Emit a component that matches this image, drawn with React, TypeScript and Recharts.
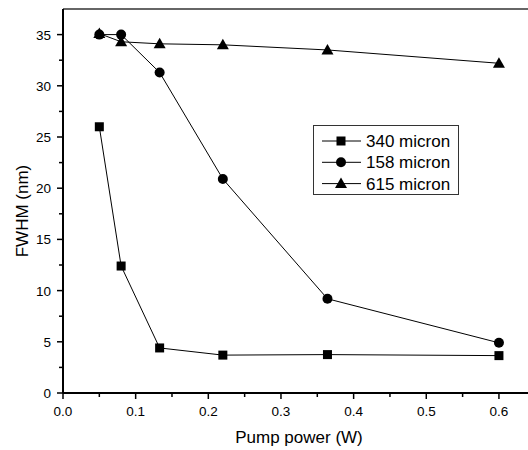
import { LineChart, Line, XAxis, YAxis, ReferenceLine, Label } from 'recharts'

const power = [0.05, 0.08, 0.133, 0.22, 0.364, 0.6]
const fwhm340 = [26, 12.4, 4.4, 3.7, 3.75, 3.65]
const fwhm158 = [35, 35, 31.3, 20.9, 9.2, 4.9]
const fwhm615 = [35.1, 34.3, 34.1, 34.0, 33.5, 32.2]

const xTicks = [0, 0.05, 0.1, 0.15, 0.2, 0.25, 0.3, 0.35, 0.4, 0.45, 0.5, 0.55, 0.6]
const yTicks = [0, 2.5, 5, 7.5, 10, 12.5, 15, 17.5, 20, 22.5, 25, 27.5, 30, 32.5, 35]

const data = power.map((p, i) => ({
  p,
  s340: fwhm340[i],
  s158: fwhm158[i],
  s615: fwhm615[i]
}))

const FONT = '"Liberation Sans", Arial, sans-serif'

const Square = ({ cx, cy }: any) => <rect x={cx - 4.5} y={cy - 4.5} width={9} height={9} fill="#000" />
const Circle = ({ cx, cy }: any) => <circle cx={cx} cy={cy} r={5} fill="#000" />
const Triangle = ({ cx, cy }: any) => (
  <polygon points={`${cx},${cy - 6} ${cx + 6},${cy + 4.5} ${cx - 6},${cy + 4.5}`} fill="#000" />
)

const isMajor = (v: number, step: number) => Math.abs(v / step - Math.round(v / step)) < 1e-6

const XTick = ({ x, y, payload }: any) => {
  const major = isMajor(payload.value, 0.1)
  return (
    <g>
      <line x1={x} y1={y} x2={x} y2={y + (major ? 6 : 4)} stroke="#000" strokeWidth={1.5} />
      {major && (
        <text x={x} y={y + 23} textAnchor="middle" fontSize={13.5} fontFamily={FONT} fill="#000">
          {payload.value.toFixed(1)}
        </text>
      )}
    </g>
  )
}

const YTick = ({ x, y, payload }: any) => {
  const major = isMajor(payload.value, 5)
  return (
    <g>
      <line x1={x} y1={y} x2={x - (major ? 6 : 4)} y2={y} stroke="#000" strokeWidth={1.5} />
      {major && (
        <text x={x - 12} y={y + 5} textAnchor="end" fontSize={13.5} fontFamily={FONT} fill="#000">
          {payload.value}
        </text>
      )}
    </g>
  )
}

const legendItems = [
  { name: '340 micron', Marker: Square },
  { name: '158 micron', Marker: Circle },
  { name: '615 micron', Marker: Triangle }
]

const LegendBox = () => (
  <svg width={146} height={70} style={{ display: 'block' }}>
    <rect x={0.5} y={0.5} width={145} height={69} fill="#fff" stroke="#333" strokeWidth={1} />
    {legendItems.map((it, i) => {
      const cy = 16 + i * 21.3
      return (
        <g key={it.name}>
          <line x1={9} y1={cy} x2={48} y2={cy} stroke="#000" strokeWidth={1} />
          <it.Marker cx={28} cy={cy} />
          <text x={53} y={cy + 6} fontSize={17} fontFamily={FONT} fill="#000">{it.name}</text>
        </g>
      )
    })}
  </svg>
)

export default function App() {
  return (
    <div style={{ position: 'absolute', left: 0, top: 0, width: 528, height: 450, background: '#fff' }}>
      <LineChart width={528} height={450} data={data} margin={{ top: 9, right: 0, bottom: 0, left: 0 }}>
        <XAxis
          dataKey="p"
          type="number"
          domain={[0, 0.64]}
          ticks={xTicks}
          interval={0}
          tickSize={0}
          tickMargin={0}
          tick={<XTick />}
          axisLine={{ stroke: '#000', strokeWidth: 2 }}
          height={57}
          allowDataOverflow
        >
          <Label
            content={() => (
              <text x={299} y={443} textAnchor="middle" fontSize={17} fontFamily={FONT} fill="#000">
                Pump power (W)
              </text>
            )}
          />
        </XAxis>
        <YAxis
          type="number"
          domain={[0, 37.5]}
          ticks={yTicks}
          interval={0}
          tickSize={0}
          tickMargin={0}
          tick={<YTick />}
          axisLine={{ stroke: '#000', strokeWidth: 2 }}
          width={63}
          allowDataOverflow
        >
          <Label
            content={() => (
              <text
                x={22}
                y={211}
                textAnchor="middle"
                fontSize={17}
                fontFamily={FONT}
                fill="#000"
                transform="rotate(-90 22 211)"
                dy={6}
              >
                FWHM (nm)
              </text>
            )}
          />
        </YAxis>
        <ReferenceLine y={37.5} stroke="#666" strokeWidth={2} ifOverflow="visible" />
        <Line dataKey="s340" stroke="#000" strokeWidth={1} dot={<Square />} activeDot={false} isAnimationActive={false} />
        <Line dataKey="s158" stroke="#000" strokeWidth={1} dot={<Circle />} activeDot={false} isAnimationActive={false} />
        <Line dataKey="s615" stroke="#000" strokeWidth={1} dot={<Triangle />} activeDot={false} isAnimationActive={false} />
      </LineChart>
      <div style={{ position: 'absolute', left: 313, top: 125 }}>
        <LegendBox />
      </div>
    </div>
  )
}
